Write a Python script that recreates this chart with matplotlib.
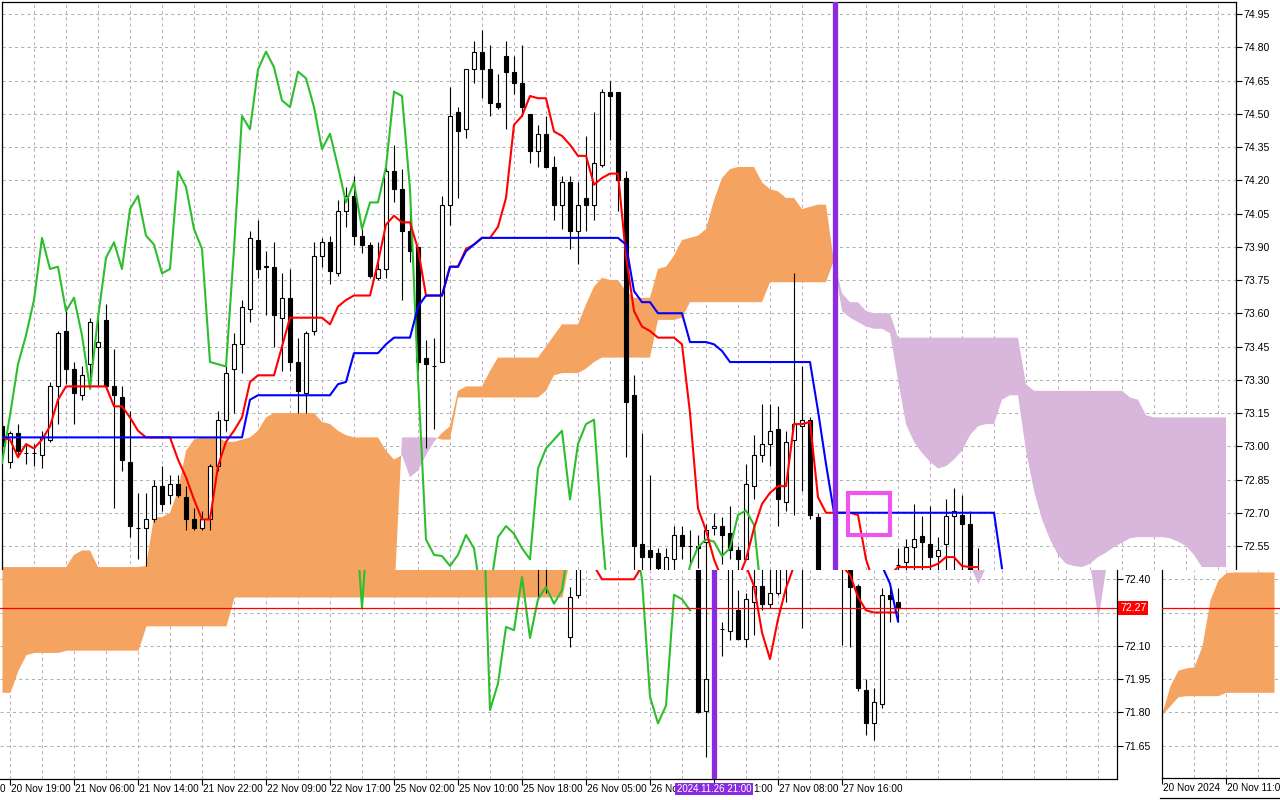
import numpy as np
import matplotlib
matplotlib.use("Agg")
import matplotlib.pyplot as plt
from matplotlib.patches import Rectangle
import matplotlib.transforms as mtransforms

plt.rcParams['font.family'] = ['Liberation Sans', 'DejaVu Sans']
plt.rcParams['font.size'] = 8

# ------------------------------------------------------------------ data
# ---- upper chart (H1 candles) ----
top_bars = list(range(0, 103)) + list(range(112, 123))
top_open = [73.09, 72.93, 73.06, 72.97, 72.97, 72.96, 73.03, 73.27, 73.52, 73.35,
            73.23, 73.37, 73.45, 73.57, 73.27, 73.22, 72.93, 72.63, 72.63, 72.67,
            72.82, 72.78, 72.83, 72.77, 72.67, 72.63, 72.67, 72.91, 73.12, 73.35,
            73.46, 73.62, 73.93, 73.81, 73.81, 73.58, 73.67, 73.38, 73.24, 73.52,
            73.86, 73.92, 73.78, 74.06, 74.13, 73.95, 73.91, 73.76, 73.80, 74.24,
            74.16, 73.97, 73.90, 73.40, 73.36, 73.38, 74.09, 74.51, 74.43, 74.70,
            74.78, 74.70, 74.55, 74.76, 74.69, 74.64, 74.50, 74.33, 74.41, 74.26,
            74.09, 74.19, 73.97, 74.12, 74.09, 74.27, 74.60, 74.60, 74.21, 73.23,
            72.56, 72.53, 72.52, 72.42, 72.49, 72.60, 72.55, 72.55, 72.57, 72.63,
            72.64, 72.61, 72.53, 72.49, 72.82, 72.96, 73.01, 73.08, 72.75, 73.03,
            73.09, 73.12, 72.68,
            72.465, 72.48, 72.545, 72.595, 72.56, 72.505, 72.56, 72.685, 72.69, 72.65, 72.42]
top_high = [73.12, 73.07, 73.10, 73.01, 73.01, 73.07, 73.29, 73.52, 73.63, 73.38,
            73.36, 73.58, 73.58, 73.64, 73.44, 73.27, 73.16, 72.79, 72.79, 72.85,
            72.91, 72.87, 72.87, 72.82, 72.72, 72.71, 72.92, 73.16, 73.36, 73.51,
            73.66, 73.97, 74.02, 73.88, 73.92, 73.78, 73.80, 73.49, 73.52, 73.92,
            73.94, 73.95, 74.11, 74.17, 74.22, 73.98, 73.92, 73.92, 74.26, 74.36,
            74.25, 74.08, 73.90, 73.48, 73.49, 74.13, 74.62, 74.53, 74.70, 74.83,
            74.88, 74.81, 74.68, 74.83, 74.76, 74.81, 74.50, 74.45, 74.49, 74.31,
            74.22, 74.22, 74.19, 74.40, 74.51, 74.61, 74.65, 74.60, 74.24, 73.32,
            73.06, 72.87, 72.54, 72.54, 72.64, 72.64, 72.62, 72.60, 72.65, 72.70,
            72.68, 72.73, 72.55, 72.92, 73.05, 73.19, 73.19, 73.18, 73.07, 73.78,
            73.36, 73.13, 72.70,
            72.54, 72.58, 72.74, 72.685, 72.73, 72.59, 72.76, 72.81, 72.78, 72.71, 72.54]
top_low = [72.96, 72.90, 72.95, 72.92, 72.91, 72.90, 73.02, 73.10, 73.28, 73.10,
           73.21, 73.26, 73.27, 73.26, 72.72, 72.89, 72.59, 72.49, 72.46, 72.66,
           72.71, 72.74, 72.77, 72.62, 72.62, 72.62, 72.62, 72.89, 73.07, 73.15,
           73.33, 73.56, 73.76, 73.59, 73.45, 73.34, 73.34, 73.15, 73.15, 73.50,
           73.81, 73.73, 73.77, 73.99, 73.91, 73.87, 73.76, 73.75, 73.76, 74.10,
           73.66, 73.83, 73.34, 72.99, 73.08, 73.38, 74.00, 74.12, 74.39, 74.64,
           74.57, 74.49, 74.52, 74.43, 74.59, 74.49, 74.28, 74.26, 74.26, 74.02,
           73.98, 73.89, 73.82, 73.97, 74.02, 74.26, 74.38, 74.06, 72.95, 72.40,
           72.40, 72.40, 72.40, 72.38, 72.38, 72.49, 72.46, 72.45, 72.40, 72.60,
           72.47, 72.49, 72.40, 72.49, 72.76, 72.93, 72.91, 72.64, 72.71, 72.69,
           72.80, 72.67, 72.35,
           72.40, 72.40, 72.40, 72.40, 72.40, 72.40, 72.40, 72.40, 72.40, 72.38, 72.35]
top_close = [73.00, 73.06, 72.98, 72.97, 72.97, 73.04, 73.27, 73.51, 73.35, 73.24,
             73.32, 73.56, 73.47, 73.27, 73.23, 72.94, 72.64, 72.63, 72.67, 72.82,
             72.74, 72.83, 72.78, 72.67, 72.63, 72.67, 72.91, 73.12, 73.33, 73.46,
             73.63, 73.94, 73.80, 73.81, 73.59, 73.67, 73.38, 73.25, 73.51, 73.86,
             73.92, 73.79, 74.06, 74.13, 73.95, 73.91, 73.77, 73.80, 74.24, 74.16,
             73.97, 73.88, 73.38, 73.37, 73.36, 74.09, 74.49, 74.42, 74.70, 74.78,
             74.70, 74.55, 74.53, 74.69, 74.64, 74.53, 74.33, 74.41, 74.26, 74.09,
             74.19, 73.97, 74.09, 74.09, 74.28, 74.60, 74.58, 74.20, 73.20, 72.55,
             72.50, 72.50, 72.45, 72.50, 72.60, 72.55, 72.55, 72.54, 72.62, 72.64,
             72.60, 72.53, 72.49, 72.83, 72.96, 73.01, 73.07, 72.76, 73.02, 73.10,
             73.12, 72.69, 72.40,
             72.465, 72.545, 72.58, 72.57, 72.50, 72.53, 72.685, 72.71, 72.65, 72.42, 72.40]

# Ichimoku lines of the upper chart (one value per bar, starting at bar 0)
tenkan_top = [73.04, 73.03, 72.95, 73.01, 72.99, 73.03, 73.09, 73.21, 73.27, 73.27,
              73.27, 73.27, 73.27, 73.27, 73.18, 73.18, 73.13, 73.07, 73.04, 73.04,
              73.04, 73.04, 72.94, 72.86, 72.76, 72.67, 72.67, 72.91, 73.02, 73.07,
              73.13, 73.29, 73.32, 73.32, 73.32, 73.45, 73.58, 73.58, 73.58, 73.58,
              73.58, 73.55, 73.63, 73.66, 73.68, 73.68, 73.68, 73.83, 74.00, 74.04,
              74.01, 74.01, 73.89, 73.68, 73.68, 73.68, 73.81, 73.81, 73.89, 73.91,
              73.94, 73.94, 73.99, 74.12, 74.45, 74.49, 74.58, 74.57, 74.57, 74.42,
              74.40, 74.36, 74.31, 74.31, 74.18, 74.21, 74.23, 74.23, 73.86, 73.61,
              73.54, 73.52, 73.49, 73.49, 73.49, 73.46, 73.15, 72.72, 72.62, 72.49,
              72.40, 72.38, 72.40, 72.49, 72.63, 72.74, 72.79, 72.82, 72.82, 73.10,
              73.10, 73.11, 72.77, 72.70, 72.70, 72.70, 72.70, 72.69, 72.49, 72.38,
              72.38, 72.42, 72.455, 72.455, 72.455, 72.455, 72.455, 72.47, 72.50, 72.50,
              72.46, 72.455, 72.455]
kijun_top = [73.04, 73.04, 73.04, 73.04, 73.04, 73.04, 73.04, 73.04, 73.04, 73.04,
             73.04, 73.04, 73.04, 73.04, 73.04, 73.04, 73.04, 73.04, 73.04, 73.04,
             73.04, 73.04, 73.04, 73.04, 73.04, 73.04, 73.04, 73.04, 73.04, 73.04,
             73.04, 73.21, 73.23, 73.23, 73.23, 73.23, 73.23, 73.23, 73.23, 73.23,
             73.23, 73.23, 73.28, 73.29, 73.42, 73.42, 73.42, 73.42, 73.46, 73.49,
             73.49, 73.49, 73.63, 73.68, 73.68, 73.68, 73.81, 73.81, 73.88, 73.91,
             73.94, 73.94, 73.94, 73.94, 73.94, 73.94, 73.94, 73.94, 73.94, 73.94,
             73.94, 73.94, 73.94, 73.94, 73.94, 73.94, 73.94, 73.94, 73.91, 73.70,
             73.65, 73.65, 73.60, 73.60, 73.60, 73.60, 73.47, 73.47, 73.47, 73.46,
             73.43, 73.38, 73.38, 73.38, 73.38, 73.38, 73.38, 73.38, 73.38, 73.38,
             73.38, 73.38, 73.16, 72.92, 72.70, 72.70, 72.70, 72.70, 72.70, 72.70,
             72.70, 72.70, 72.70, 72.70, 72.70, 72.70, 72.70, 72.70, 72.70, 72.70,
             72.70, 72.70, 72.70, 72.70, 72.70, 72.45]
chikou_top = [72.925, 73.14, 73.37, 73.50, 73.66, 73.94, 73.80, 73.81, 73.61, 73.67,
              73.50, 73.26, 73.58, 73.85, 73.92, 73.80, 74.07, 74.13, 73.95, 73.91,
              73.78, 73.80, 74.24, 74.17, 73.98, 73.89, 73.38, 73.37, 73.36, 73.89,
              74.49, 74.43, 74.70, 74.78, 74.71, 74.56, 74.53, 74.69, 74.66, 74.53,
              74.34, 74.41, 74.26, 74.10, 74.19, 73.98, 74.10, 74.10, 74.26, 74.60,
              74.58, 74.16, 73.31, 72.58, 72.51, 72.505, 72.46, 72.51, 72.60, 72.54,
              72.30, 72.35, 72.59, 72.64, 72.605, 72.54, 72.49, 72.90, 72.99, 73.03,
              73.07, 72.76, 73.01, 73.10, 73.12, 72.62, 72.20, 72.10, 72.05, 72.10,
              72.10, 72.05, 72.10, 72.15, 72.20, 72.30, 72.46, 72.545, 72.58, 72.57,
              72.505, 72.54, 72.69, 72.71, 72.645, 72.30]
span_a_top = [72.455, 72.455, 72.455, 72.455, 72.455, 72.455, 72.455, 72.455, 72.455, 72.51,
              72.53, 72.53, 72.455, 72.455, 72.455, 72.455, 72.455, 72.455, 72.46, 72.68,
              72.68, 72.70, 72.80, 72.98, 73.03, 73.04, 73.04, 73.04, 73.02, 73.02,
              73.03, 73.04, 73.07, 73.13, 73.15, 73.15, 73.15, 73.15, 73.15, 73.15,
              73.11, 73.10, 73.07, 73.05, 73.04, 73.04, 73.04, 73.04, 72.98, 72.94,
              72.96, 72.86, 72.89, 72.96, 73.02, 73.06, 73.09, 73.25, 73.27, 73.27,
              73.27, 73.34, 73.40, 73.40, 73.40, 73.40, 73.40, 73.40, 73.45, 73.50,
              73.55, 73.55, 73.55, 73.64, 73.72, 73.76, 73.75, 73.75, 73.70, 73.67,
              73.67, 73.67, 73.80, 73.81, 73.86, 73.93, 73.94, 73.95, 73.98, 74.11,
              74.21, 74.25, 74.26, 74.26, 74.26, 74.19, 74.16, 74.15, 74.12, 74.12,
              74.07, 74.08, 74.09, 74.09, 73.83, 73.61, 73.58, 73.56, 73.54, 73.53,
              73.53, 73.51, 73.30, 73.10, 73.02, 72.97, 72.93, 72.90, 72.91, 72.94,
              72.98, 73.05, 73.09, 73.10, 73.10, 73.21, 73.23, 73.23, 72.98, 72.80,
              72.67, 72.58, 72.51, 72.47, 72.46, 72.455, 72.47, 72.50, 72.52, 72.545,
              72.565, 72.585, 72.59, 72.59, 72.59, 72.59, 72.585, 72.57, 72.55, 72.51,
              72.455, 72.455, 72.455, 72.455]
span_b_top = [72.30, 72.30, 72.30, 72.30, 72.30, 72.30, 72.30, 72.30, 72.30, 72.30,
              72.30, 72.30, 72.30, 72.30, 72.30, 72.30, 72.30, 72.30, 72.30, 72.30,
              72.30, 72.30, 72.30, 72.30, 72.30, 72.30, 72.30, 72.30, 72.30, 72.30,
              72.30, 72.30, 72.30, 72.30, 72.30, 72.30, 72.30, 72.30, 72.30, 72.30,
              72.30, 72.30, 72.30, 72.30, 72.30, 72.30, 72.30, 72.30, 72.30, 72.30,
              73.04, 73.04, 73.04, 73.04, 73.04, 73.03, 73.03, 73.22, 73.22, 73.22,
              73.22, 73.22, 73.22, 73.22, 73.22, 73.22, 73.22, 73.22, 73.25, 73.32,
              73.33, 73.33, 73.33, 73.35, 73.38, 73.40, 73.40, 73.40, 73.40, 73.40,
              73.40, 73.40, 73.57, 73.57, 73.57, 73.58, 73.65, 73.65, 73.65, 73.65,
              73.65, 73.65, 73.65, 73.65, 73.65, 73.65, 73.74, 73.74, 73.74, 73.74,
              73.74, 73.74, 73.74, 73.74, 73.84, 73.69, 73.65, 73.65, 73.61, 73.60,
              73.60, 73.60, 73.49, 73.49, 73.49, 73.49, 73.49, 73.49, 73.49, 73.49,
              73.49, 73.49, 73.49, 73.49, 73.49, 73.49, 73.49, 73.49, 73.28, 73.25,
              73.25, 73.25, 73.25, 73.25, 73.25, 73.25, 73.25, 73.25, 73.25, 73.25,
              73.25, 73.22, 73.21, 73.14, 73.13, 73.13, 73.13, 73.13, 73.13, 73.13,
              73.13, 73.13, 73.13, 73.13]
top_price_ticks = [74.95, 74.80, 74.65, 74.50, 74.35, 74.20, 74.05, 73.90, 73.75,
                   73.60, 73.45, 73.30, 73.15, 73.00, 72.85, 72.70, 72.55]
top_vline_bar = 104.1          # vertical line object
box_bars = (105.75, 111.0)     # rectangle object (time range)
box_prices = (72.60, 72.79)    # rectangle object (price range)

# ---- lower chart ----
bot_bars = [67, 68, 71, 72, 87, 88, 90, 91, 92, 93, 94, 95, 96, 97, 98, 100,
            105, 106, 107, 108, 109, 110, 111, 112]
bot_open = [72.50, 72.50, 72.14, 72.33, 72.46, 71.806, 72.176, 72.167, 72.262, 72.131,
            72.298, 72.37, 72.289, 72.338, 72.48, 72.50, 72.50, 72.46, 72.37, 71.90,
            71.752, 71.837, 72.329, 72.298]
bot_high = [72.55, 72.55, 72.365, 72.50, 72.50, 72.46, 72.207, 72.48, 72.352, 72.338,
            72.46, 72.46, 72.46, 72.50, 72.50, 72.55, 72.55, 72.50, 72.38, 71.95,
            71.909, 72.361, 72.361, 72.361]
bot_low = [72.32, 72.34, 72.095, 72.316, 71.797, 71.60, 72.054, 72.126, 72.126, 72.095,
           72.149, 72.262, 72.27, 72.33, 72.298, 72.18, 72.104, 72.095, 71.896, 71.698,
           71.675, 71.819, 72.207, 72.207]
bot_close = [72.48, 72.48, 72.32, 72.46, 71.80, 71.95, 72.176, 72.46, 72.131, 72.311,
             72.37, 72.289, 72.338, 72.46, 72.47, 72.48, 72.48, 72.365, 71.909, 71.752,
             71.846, 72.329, 72.311, 72.271]
bot_tenkan_segments = [
    ([74, 75, 76, 77, 78, 79, 80], [72.46, 72.40, 72.40, 72.40, 72.40, 72.40, 72.46]),
    ([93, 94, 95, 96, 97, 98, 99], [72.46, 72.37, 72.16, 72.04, 72.22, 72.36, 72.46]),
    ([105, 106, 107, 108, 109, 110, 111, 112], [72.46, 72.42, 72.32, 72.26, 72.25, 72.25, 72.25, 72.25]),
]
bot_kijun_segments = [([110, 111, 112], [72.46, 72.38, 72.21])]
bot_chikou_segments = [
    ([44, 45, 46], [72.80, 72.27, 72.80]),
    ([60, 61, 62, 63, 64, 65, 66, 67, 68, 69, 70, 71],
     [72.90, 71.81, 71.93, 72.185, 72.17, 72.41, 72.135, 72.31, 72.365, 72.29, 72.35, 72.60]),
    ([79, 80, 81, 82, 83, 84, 85, 86],
     [72.60, 72.40, 71.87, 71.75, 71.83, 72.33, 72.31, 72.26]),
]
bot_kumo_bars = list(range(0, 72))
bot_kumo_top = [72.50, 72.50, 72.50, 72.50, 72.50, 72.50, 72.50, 72.50, 72.50, 72.50,
                72.50, 72.50, 72.50, 72.50, 72.50, 72.50, 72.50, 72.50, 72.50, 72.50,
                72.50, 72.50, 72.50, 72.50, 72.50, 72.50, 72.50, 72.50, 72.50, 72.50,
                72.50, 72.50, 72.50, 72.50, 72.50, 72.50, 72.50, 72.50, 72.50, 72.50,
                72.50, 72.50, 72.50, 72.50, 72.50, 72.50, 72.50, 72.50, 72.50, 72.50,
                72.50, 72.50, 72.50, 72.50, 72.50, 72.50, 72.50, 72.50, 72.50, 72.50,
                72.50, 72.50, 72.50, 72.50, 72.50, 72.50, 72.50, 72.50, 72.50, 72.50,
                72.50, 72.50]
bot_kumo_bottom = [71.89, 71.89, 71.99, 72.06, 72.07, 72.07, 72.07, 72.07, 72.08, 72.08,
                   72.08, 72.08, 72.08, 72.08, 72.08, 72.08, 72.08, 72.08, 72.19, 72.19,
                   72.19, 72.19, 72.19, 72.19, 72.19, 72.19, 72.19, 72.19, 72.19, 72.32,
                   72.32, 72.32, 72.32, 72.32, 72.32, 72.32, 72.32, 72.32, 72.32, 72.32,
                   72.32, 72.32, 72.32, 72.32, 72.32, 72.32, 72.32, 72.32, 72.32, 72.32,
                   72.32, 72.32, 72.32, 72.32, 72.32, 72.32, 72.32, 72.32, 72.32, 72.32,
                   72.32, 72.32, 72.32, 72.32, 72.32, 72.32, 72.32, 72.32, 72.32, 72.32,
                   72.32, 72.50]
bot_bear_kumo = [
    ([121, 122, 123], [72.46, 72.38, 72.46]),
    ([136, 137, 138], [72.46, 72.22, 72.46]),
]
bot_price_ticks = [72.40, 72.25, 72.10, 71.95, 71.80, 71.65]
bot_price_labels = ["72.40", "", "72.10", "71.95", "71.80", "71.65"]  # 72.25 sits under the price tag
bot_time_bars = [1, 9, 17, 25, 33, 41, 49, 57, 65, 73, 81, 89, 97, 105]
bot_time_labels = ["20 Nov 19:00", "21 Nov 06:00", "21 Nov 14:00",
                   "21 Nov 22:00", "22 Nov 09:00", "22 Nov 17:00", "25 Nov 02:00",
                   "25 Nov 10:00", "25 Nov 18:00", "26 Nov 05:00", "26 No",
                   "", "27 Nov 08:00", "27 Nov 16:00"]
edge_fragments = [(-0.25, "0"), (96.3, "1:00")]   # label remnants visible at the edges / beside the tag
bot_vline_bar = 89
bot_vline_label = "2024.11.26 21:00"
last_price = 72.27

# ---- small panel, bottom right ----
br_bars = list(range(0, 15))
br_kumo_top = [71.797, 71.92, 71.99, 72.00, 72.005, 72.10, 72.307, 72.397, 72.43, 72.433,
               72.433, 72.433, 72.433, 72.433, 72.433]
br_kumo_bottom = [71.79, 71.83, 71.87, 71.875, 71.875, 71.875, 71.875, 71.875, 71.89, 71.89,
                  71.89, 71.89, 71.89, 71.89, 71.89]
br_time_bars = [0, 8]
br_time_labels = ["20 Nov 2024", "20 Nov 11:00"]

# ------------------------------------------------------------------ style
ORANGE = '#F4A460'
PURPLE_KUMO = '#D9B6DC'
RED = '#FF0000'
BLUE = '#0000FF'
GREEN = '#2DBE2D'
VLINE = '#8A2BE2'
BOXC = '#EE55EE'
HGRID = '#A9B9A9'
VGRID = '#C6A9C6'
LW = 1.5
FS_T = 7.2   # time labels
FS_P = 7.6   # price labels

W, H = 1280, 800
fig = plt.figure(figsize=(12.8, 8), dpi=100)
fig.patch.set_facecolor('white')


def price_at(y):            # pixel row -> price, common price scale
    return 74.95 - (y - 14) / 221.67


def px_axes(x0, y0, x1, y1):
    return fig.add_axes([x0 / W, 1 - y1 / H, (x1 - x0) / W, (y1 - y0) / H])


def grid(ax, hl, vl):
    for p in hl:
        ax.axhline(p, color=HGRID, lw=0.75, ls=(0, (3, 3)), zorder=0)
    for b in vl:
        ax.axvline(b, color=VGRID, lw=0.75, ls=(0, (3, 3)), zorder=0)


def candles(ax, bars, o, h, l, c, width=0.56):
    for x, oo, hh, ll, cc in zip(bars, o, h, l, c):
        ax.vlines(x, ll, hh, color='black', lw=0.8, zorder=3)
        lo, hi = min(oo, cc), max(oo, cc)
        face = 'white' if cc >= oo else 'black'
        ax.add_patch(Rectangle((x - width / 2, lo), width, max(hi - lo, 0.0015),
                               facecolor=face, edgecolor='black', lw=0.8, zorder=4))


def kumo(ax, bars, a, b):
    a = np.asarray(a, float)
    b = np.asarray(b, float)
    ax.fill_between(bars, a, b, where=a >= b, interpolate=True, color=ORANGE, lw=0, zorder=1)
    ax.fill_between(bars, a, b, where=a < b, interpolate=True, color=PURPLE_KUMO, lw=0, zorder=1)


# ------------------------------------------------------------------ upper chart
ax = px_axes(2, 2, 1236, 570)
ax.set_xlim(0, (1236 - 2) / 8)
ax.set_ylim(price_at(570), price_at(2))
grid(ax, top_price_ticks, range(0, 155, 4))
kumo(ax, range(len(span_a_top)), span_a_top, span_b_top)
candles(ax, top_bars, top_open, top_high, top_low, top_close)
ax.plot(range(len(chikou_top)), chikou_top, color=GREEN, lw=LW, zorder=5)
ax.plot(range(len(tenkan_top)), tenkan_top, color=RED, lw=LW, zorder=5)
ax.plot(range(len(kijun_top)), kijun_top, color=BLUE, lw=LW, zorder=6)
ax.axvline(top_vline_bar, color=VLINE, lw=3.8, zorder=7)
ax.add_patch(Rectangle((box_bars[0], box_prices[0]), box_bars[1] - box_bars[0],
                       box_prices[1] - box_prices[0], fill=False, edgecolor=BOXC,
                       lw=3.0, zorder=8))
ax.set_xticks([])
ax.yaxis.tick_right()
ax.set_yticks(top_price_ticks)
ax.set_yticklabels([f"{v:.2f}" for v in top_price_ticks])
ax.tick_params(axis='y', direction='out', length=4, width=0.8, pad=1.5, labelsize=FS_P)
for s in ('left', 'top', 'right'):
    ax.spines[s].set_linewidth(0.9)
ax.spines['bottom'].set_visible(False)

# ------------------------------------------------------------------ lower chart
bx = px_axes(0, 570, 1117, 779)
bx.set_xlim(-2 / 8, (1117 - 2) / 8)
bx.set_ylim(price_at(779), price_at(570))
grid(bx, bot_price_ticks, range(1, 140, 4))
kumo(bx, bot_kumo_bars, bot_kumo_top, bot_kumo_bottom)
for xs, ys in bot_bear_kumo:
    bx.fill_between(xs, ys, [72.50] * len(xs), color=PURPLE_KUMO, lw=0, zorder=1)
candles(bx, bot_bars, bot_open, bot_high, bot_low, bot_close)
for xs, ys in bot_chikou_segments:
    bx.plot(xs, ys, color=GREEN, lw=LW, zorder=5)
for xs, ys in bot_tenkan_segments:
    bx.plot(xs, ys, color=RED, lw=LW, zorder=5)
for xs, ys in bot_kijun_segments:
    bx.plot(xs, ys, color=BLUE, lw=LW, zorder=6)
bx.axhline(last_price, color=RED, lw=0.9, zorder=6)
bx.axvline(bot_vline_bar, color=VLINE, lw=3.8, zorder=7)
bx.yaxis.tick_right()
bx.set_yticks(bot_price_ticks)
bx.set_yticklabels(bot_price_labels)
bx.tick_params(axis='y', direction='out', length=4, width=0.8, pad=1.5, labelsize=FS_P)
bx.set_xticks(bot_time_bars)
bx.set_xticklabels([])
bx.tick_params(axis='x', direction='out', length=4, width=0.8)
xt = mtransforms.blended_transform_factory(bx.transData, bx.transAxes)
for b, lab in zip(bot_time_bars, bot_time_labels):
    if lab:
        bx.text(b + 0.15, -0.048, lab, transform=xt, ha='left', va='center', fontsize=FS_T,
                color='black', zorder=5, clip_on=False)
bx.text(edge_fragments[0][0], -0.048, edge_fragments[0][1], transform=xt, ha='left',
        va='center', fontsize=FS_T, color='black', clip_on=False)
bx.text(edge_fragments[1][0], -0.048, edge_fragments[1][1], transform=xt, ha='right',
        va='center', fontsize=FS_T, color='black', clip_on=False)
bx.text(bot_vline_bar, -0.048, bot_vline_label, transform=xt, ha='center', va='center',
        fontsize=7.0, color='white', zorder=20, clip_on=False,
        bbox=dict(facecolor=VLINE, edgecolor='none', pad=1.0))
yt = mtransforms.blended_transform_factory(bx.transAxes, bx.transData)
bx.text(1.0 + 3 / 1117, last_price, f"{last_price:.2f}", transform=yt, ha='left',
        va='center', fontsize=FS_P, color='white', zorder=20, clip_on=False,
        bbox=dict(facecolor=RED, edgecolor='none', pad=1.2))
bx.spines['left'].set_visible(False)
bx.spines['top'].set_visible(False)
bx.spines['right'].set_linewidth(0.9)
bx.spines['bottom'].set_linewidth(0.9)

# ------------------------------------------------------------------ small panel
rx = px_axes(1162, 570, 1280, 778)
rx.set_xlim(0, (1280 - 1162) / 8)
rx.set_ylim(price_at(778), price_at(570))
grid(rx, bot_price_ticks, [4, 8, 12])
kumo(rx, br_bars, br_kumo_top, br_kumo_bottom)
rx.axhline(last_price, color=RED, lw=0.9, zorder=6)
rx.set_yticks([])
rx.set_xticks(br_time_bars)
rx.set_xticklabels([])
rx.tick_params(axis='x', direction='out', length=4, width=0.8)
xt2 = mtransforms.blended_transform_factory(rx.transData, rx.transAxes)
for b, lab in zip(br_time_bars, br_time_labels):
    rx.text(b + 0.1, -0.05, lab, transform=xt2, ha='left', va='center', fontsize=FS_T,
            color='black', clip_on=False)
rx.spines['top'].set_visible(False)
rx.spines['right'].set_visible(False)
rx.spines['left'].set_linewidth(0.9)
rx.spines['bottom'].set_linewidth(0.9)
fig.add_artist(plt.Line2D([1160 / W, 1.0], [1 - 798 / H, 1 - 798 / H], color='black', lw=0.9))

fig.savefig('out.png', dpi=100, facecolor='white')
